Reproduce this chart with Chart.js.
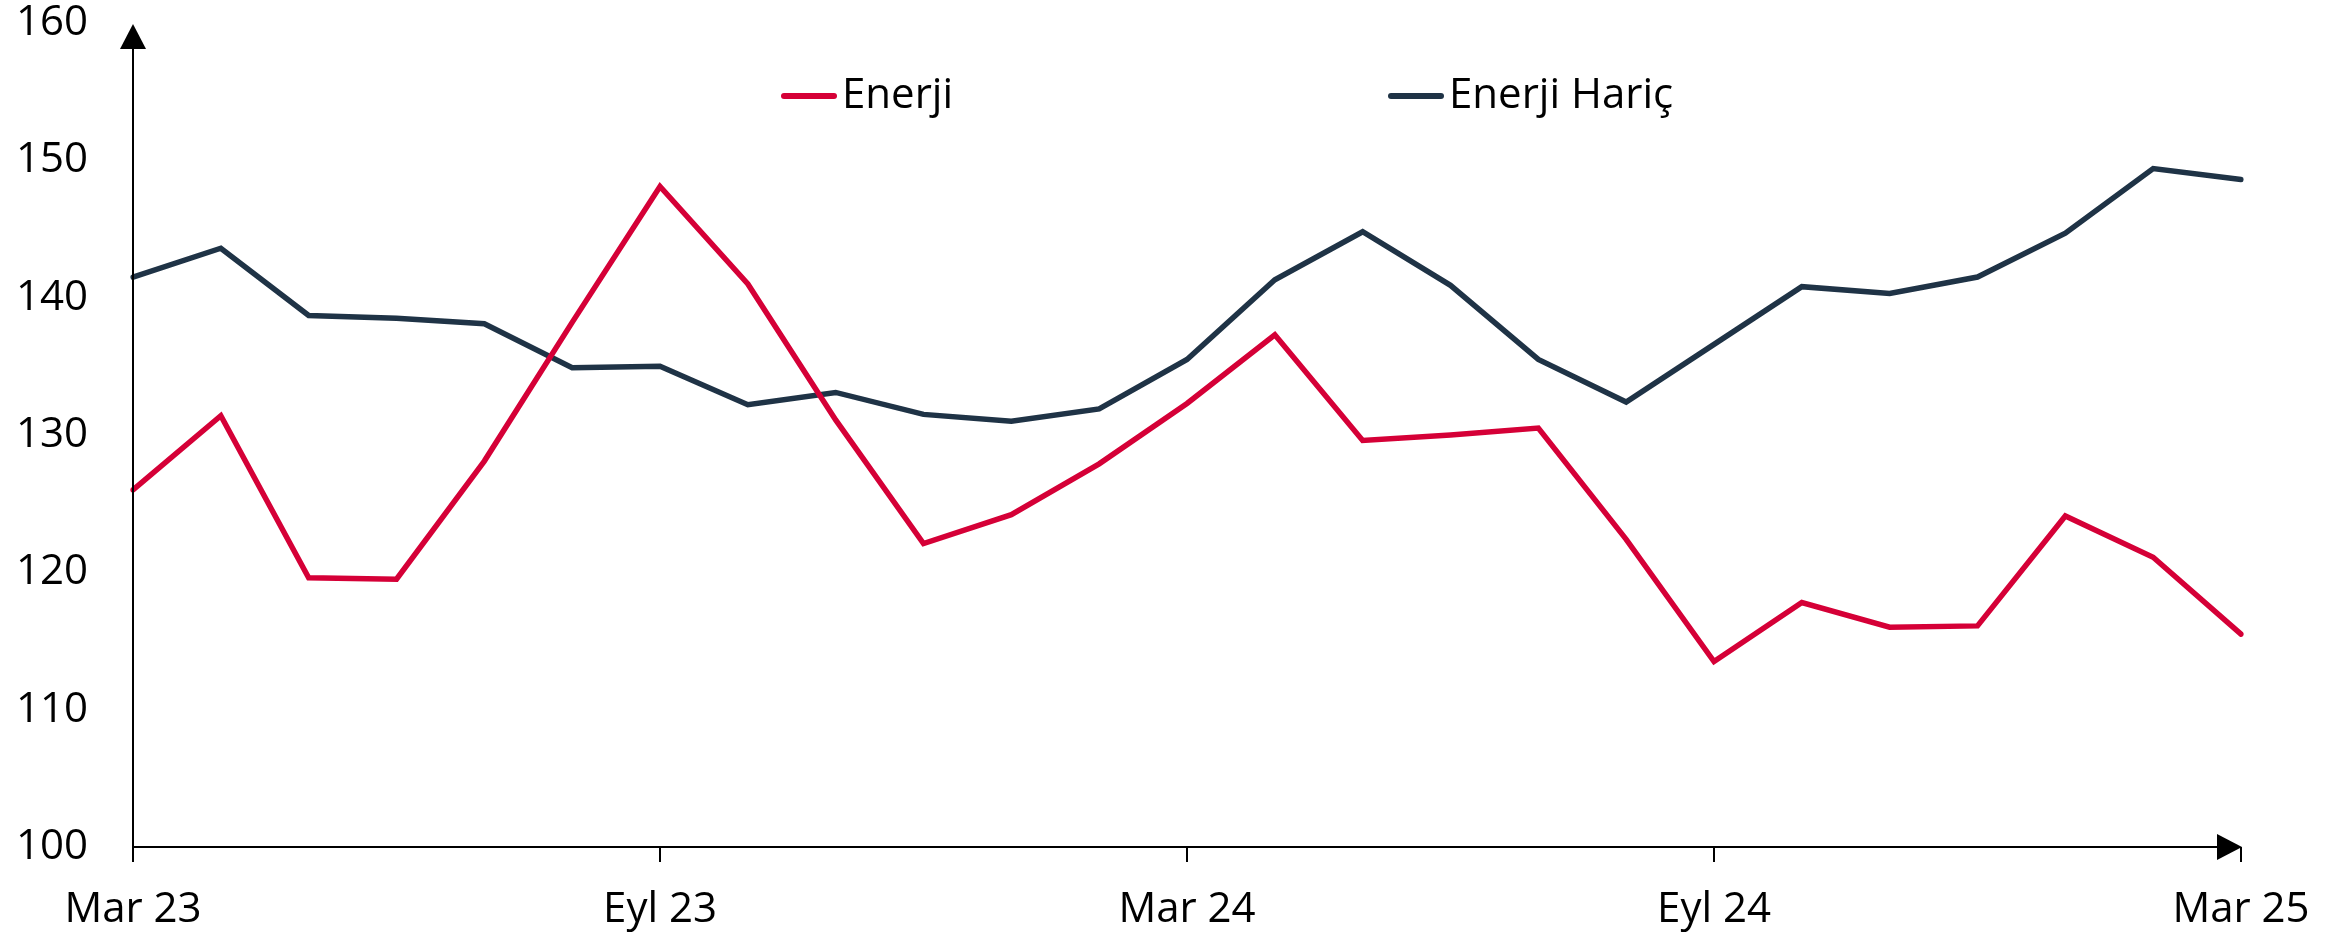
<!DOCTYPE html>
<html lang="tr">
<head>
<meta charset="utf-8">
<title>Enerji / Enerji Hariç</title>
<script src="https://cdn.jsdelivr.net/npm/chart.js@4.4.1/dist/chart.umd.min.js"></script>
<style>
  html, body { margin: 0; padding: 0; background: #fff; }
  #wrap { width: 2351px; height: 937px; position: relative; }
</style>
</head>
<body>
<div id="wrap"><canvas id="chart1"></canvas></div>
<script>
// months Mar 23 .. Mar 25
var months = ['Mar 23', 'Nis 23', 'May 23', 'Haz 23', 'Tem 23', 'Ağu 23', 'Eyl 23', 'Eki 23', 'Kas 23', 'Ara 23',
              'Oca 24', 'Şub 24', 'Mar 24', 'Nis 24', 'May 24', 'Haz 24', 'Tem 24', 'Ağu 24', 'Eyl 24', 'Eki 24',
              'Kas 24', 'Ara 24', 'Oca 25', 'Şub 25', 'Mar 25'];
var shownTicks = ['Mar 23', 'Eyl 23', 'Mar 24', 'Eyl 24', 'Mar 25'];

var enerji = [126.0, 131.4, 119.6, 119.5, 128.1, 138.2, 148.1, 141.0, 131.1, 122.1,
              124.2, 127.9, 132.3, 137.3, 129.6, 130.0, 130.5, 122.4, 113.5, 117.8,
              116.0, 116.1, 124.1, 121.1, 115.5];
var enerjiHaric = [141.5, 143.6, 138.7, 138.5, 138.1, 134.9, 135.0, 132.2, 133.1, 131.5,
                   131.0, 131.9, 135.5, 141.3, 144.8, 140.9, 135.5, 132.4, 136.6, 140.8,
                   140.3, 141.5, 144.7, 149.4, 148.6];

var RED = '#d50037';
var NAVY = '#1f3346';
var FONT = "'Open Sans', sans-serif";

Chart.defaults.font.family = FONT;
Chart.defaults.font.size = 42;
Chart.defaults.color = '#000';

// axis lines, arrow heads, x ticks
var axisArrows = {
    id: 'axisArrows',
    afterDatasetsDraw: function (chart) {
        var ctx = chart.ctx, a = chart.chartArea, x = chart.scales.x;
        ctx.save();
        ctx.strokeStyle = '#000';
        ctx.fillStyle = '#000';
        ctx.lineWidth = 2;
        ctx.beginPath();
        ctx.moveTo(a.left, a.bottom + 15);
        ctx.lineTo(a.left, 49);
        ctx.moveTo(a.left, a.bottom);
        ctx.lineTo(a.right - 24, a.bottom);
        months.forEach(function (m, i) {
            if (shownTicks.indexOf(m) >= 0) {
                var px = x.getPixelForValue(i);
                ctx.moveTo(px, a.bottom);
                ctx.lineTo(px, a.bottom + 15);
            }
        });
        ctx.stroke();
        // y arrow
        ctx.beginPath();
        ctx.moveTo(a.left, 24);
        ctx.lineTo(a.left - 13, 49);
        ctx.lineTo(a.left + 13, 49);
        ctx.closePath();
        ctx.fill();
        // x arrow
        ctx.beginPath();
        ctx.moveTo(a.right + 1, a.bottom);
        ctx.lineTo(a.right - 24, a.bottom - 13);
        ctx.lineTo(a.right - 24, a.bottom + 13);
        ctx.closePath();
        ctx.fill();
        ctx.restore();
    }
};

// legend drawn inside the plot
var legendInside = {
    id: 'legendInside',
    afterDraw: function (chart) {
        var ctx = chart.ctx;
        var items = [[781, 0], [1388, 1]];
        ctx.save();
        ctx.font = '42px ' + FONT;
        ctx.textBaseline = 'alphabetic';
        ctx.textAlign = 'left';
        items.forEach(function (it) {
            var ds = chart.data.datasets[it[1]];
            ctx.strokeStyle = ds.borderColor;
            ctx.lineWidth = 6;
            ctx.lineCap = 'round';
            ctx.beginPath();
            ctx.moveTo(it[0] + 3, 96);
            ctx.lineTo(it[0] + 53, 96);
            ctx.stroke();
            ctx.fillStyle = '#000';
            ctx.fillText(ds.label, it[0] + 61, 108);
        });
        ctx.restore();
    }
};

var ctx1 = document.getElementById('chart1').getContext('2d');
var chart1 = new Chart(ctx1, {
    type: 'line',
    data: {
        labels: months,
        datasets: [{
            label: 'Enerji',
            data: enerji,
            borderColor: RED,
            backgroundColor: RED,
            borderWidth: 5.5,
            pointRadius: 0,
            tension: 0,
            borderCapStyle: 'round'
        }, {
            label: 'Enerji Hariç',
            data: enerjiHaric,
            borderColor: NAVY,
            backgroundColor: NAVY,
            borderWidth: 5.5,
            pointRadius: 0,
            tension: 0,
            borderCapStyle: 'round'
        }]
    },
    options: {
        responsive: true,
        maintainAspectRatio: false,
        animation: false,
        layout: {
            padding: { left: 18, right: 110, top: 23, bottom: 0 }
        },
        plugins: {
            legend: { display: false },
            tooltip: { enabled: false }
        },
        scales: {
            x: {
                grid: { display: false, drawTicks: false },
                border: { display: false },
                ticks: {
                    autoSkip: false,
                    maxRotation: 0,
                    padding: 38,
                    callback: function (val, i) {
                        return shownTicks.indexOf(months[i]) >= 0 ? months[i] : '';
                    }
                },
                afterFit: function (s) {
                    s.height = 90;
                    s.paddingLeft = 0;
                    s.paddingRight = 0;
                }
            },
            y: {
                min: 100,
                max: 160,
                grid: { display: false, drawTicks: false },
                border: { display: false },
                ticks: { stepSize: 10, padding: 45 },
                afterFit: function (s) {
                    s.width = 115;
                    s.paddingTop = 0;
                    s.paddingBottom = 0;
                }
            }
        }
    },
    plugins: [axisArrows, legendInside]
});
</script>
</body>
</html>
